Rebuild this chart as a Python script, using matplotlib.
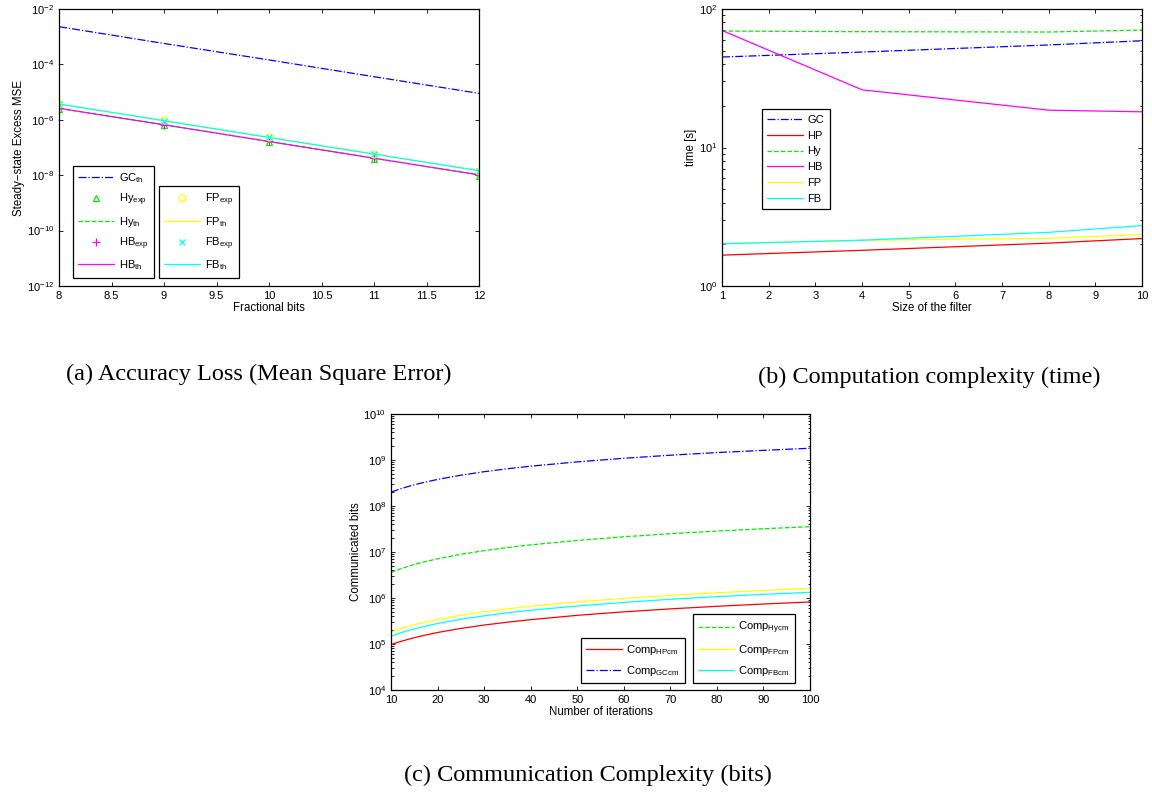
import matplotlib
matplotlib.use('Agg')
import matplotlib.pyplot as plt
import numpy as np

plt.rcParams['font.family'] = ['Liberation Sans', 'DejaVu Sans']
plt.rcParams['mathtext.fontset'] = 'custom'
plt.rcParams['mathtext.rm'] = 'Liberation Sans'
plt.rcParams['mathtext.it'] = 'Liberation Sans:italic'
plt.rcParams['mathtext.default'] = 'regular'

# (a) accuracy loss
frac_bits = [8, 9, 10, 11, 12]
gc_th = [2.3e-3, 5.7e-4, 1.45e-4, 3.6e-5, 9.0e-6]
hy_exp = [2.5e-6, 6.4e-7, 1.6e-7, 4.0e-8, 9.0e-9]
hy_th = [2.6e-6, 6.6e-7, 1.65e-7, 4.1e-8, 1.03e-8]
hb_exp = [2.6e-6, 6.5e-7, 1.65e-7, 4.1e-8, 1.0e-8]
hb_th = [2.6e-6, 6.6e-7, 1.65e-7, 4.1e-8, 1.03e-8]
fp_exp = [3.8e-6, 9.5e-7, 2.35e-7, 5.9e-8, 1.45e-8]
fp_th = [3.7e-6, 9.3e-7, 2.3e-7, 5.8e-8, 1.45e-8]
fb_exp = [3.7e-6, 9.2e-7, 2.3e-7, 5.8e-8, 1.4e-8]
fb_th = [3.7e-6, 9.3e-7, 2.3e-7, 5.8e-8, 1.45e-8]

# (b) computation time
filt_size = [1, 4, 8, 10]
t_gc = [45, 48.9, 55, 59]
t_hp = [1.67, 1.81, 2.04, 2.2]
t_hy = [69.3, 68.6, 68.2, 70.5]
t_hb = [70, 26.1, 18.6, 18.1]
t_fp = [2.02, 2.14, 2.21, 2.35]
t_fb = [2.02, 2.14, 2.44, 2.73]

# (c) communicated bits
iters = [10, 12, 14, 16, 18, 20, 25, 30, 35, 40, 50, 60, 70, 80, 90, 100]
c_hp = [9.7e4, 1.13e5, 1.29e5, 1.45e5, 1.61e5, 1.78e5, 2.18e5, 2.58e5, 2.98e5, 3.38e5,
        4.2e5, 5.0e5, 5.8e5, 6.6e5, 7.4e5, 8.2e5]
c_gc = [2.0e8, 2.36e8, 2.71e8, 3.07e8, 3.42e8, 3.78e8, 4.67e8, 5.56e8, 6.45e8, 7.34e8,
        9.1e8, 1.09e9, 1.27e9, 1.45e9, 1.62e9, 1.8e9]
c_hy = [3.6e6, 4.3e6, 5.0e6, 5.7e6, 6.4e6, 7.1e6, 8.9e6, 1.07e7, 1.25e7, 1.43e7,
        1.78e7, 2.14e7, 2.5e7, 2.85e7, 3.2e7, 3.55e7]
c_fp = [1.82e5, 2.14e5, 2.46e5, 2.78e5, 3.1e5, 3.42e5, 4.22e5, 5.02e5, 5.82e5, 6.62e5,
        8.2e5, 9.8e5, 1.14e6, 1.30e6, 1.46e6, 1.62e6]
c_fb = [1.47e5, 1.74e5, 2.0e5, 2.26e5, 2.52e5, 2.79e5, 3.45e5, 4.1e5, 4.76e5, 5.42e5,
        6.7e5, 8.0e5, 9.4e5, 1.07e6, 1.2e6, 1.33e6]

B, R, G, M, Y, C = '#0000ff', '#ff0000', '#00ee00', '#ff00ff', '#ffff00', '#00ffff'
W, H = 1152, 796
LW = 0.9
FS = 8          # tick labels
LFS = 8.3       # axis labels
GFS = 8         # legends
CAP = 17.5      # captions


def px_axes(fig, left, top, right, bottom):
    return fig.add_axes([left / W, 1 - bottom / H, (right - left) / W, (bottom - top) / H])


def style(ax):
    ax.tick_params(direction='in', which='both', top=True, right=True, labelsize=FS, width=0.6)
    ax.tick_params(which='major', length=3)
    ax.tick_params(which='minor', length=1.8)
    for s in ax.spines.values():
        s.set_linewidth(0.9)


def px_legend(fig, ax, handles, x, y, loc, **kw):
    leg = ax.legend(handles=handles, loc=loc, bbox_to_anchor=(x / W, 1 - y / H),
                    bbox_transform=fig.transFigure, borderaxespad=0, fontsize=GFS,
                    fancybox=False, framealpha=1, edgecolor='black', **kw)
    leg.get_frame().set_linewidth(0.9)
    return leg


def caption(fig, x, y, s):
    fig.text(x / W, 1 - y / H, s, ha='center', va='center', fontsize=CAP, family='Liberation Serif')


fig = plt.figure(figsize=(W / 100, H / 100), dpi=100)

# ---- (a)
ax = px_axes(fig, 59, 9, 479, 286)
l1, = ax.plot(frac_bits, gc_th, '-.', color=B, lw=LW, label='GC$_{th}$')
l2, = ax.plot(frac_bits, hy_exp, '^', color=G, mfc='none', ms=5, mew=0.9, label='Hy$_{exp}$')
l3, = ax.plot(frac_bits, hy_th, '--', color=G, lw=LW, label='Hy$_{th}$')
l4, = ax.plot(frac_bits, hb_exp, '+', color=M, ms=6, mew=0.9, label='HB$_{exp}$')
l5, = ax.plot(frac_bits, hb_th, '-', color=M, lw=LW, label='HB$_{th}$')
l6, = ax.plot(frac_bits, fp_exp, 'o', color=Y, mfc='none', ms=5, mew=0.9, label='FP$_{exp}$')
l7, = ax.plot(frac_bits, fp_th, '-', color=Y, lw=LW, label='FP$_{th}$')
l8, = ax.plot(frac_bits, fb_exp, 'x', color=C, ms=4, mew=0.9, label='FB$_{exp}$')
l9, = ax.plot(frac_bits, fb_th, '-', color=C, lw=LW, label='FB$_{th}$')
ax.set_yscale('log')
ax.set_ylim(1e-12, 1e-2)
ax.set_xlim(8, 12)
ax.set_yticks([1e-12, 1e-10, 1e-8, 1e-6, 1e-4, 1e-2])
ax.yaxis.set_minor_locator(matplotlib.ticker.NullLocator())
ax.set_xticks(np.arange(8, 12.01, 0.5))
ax.set_xticklabels(['8', '8.5', '9', '9.5', '10', '10.5', '11', '11.5', '12'])
ax.set_xlabel('Fractional bits', fontsize=LFS, labelpad=1)
ax.set_ylabel('Steady\u2212state Excess MSE', fontsize=LFS, labelpad=1)
style(ax)
leg_kw = dict(handlelength=3.25, labelspacing=0.6, handletextpad=0.4, borderpad=0.5)
la = px_legend(fig, ax, [l1, l2, l3, l4, l5], 72.7, 277.7, 'lower left', **leg_kw)
ax.add_artist(la)
px_legend(fig, ax, [l6, l7, l8, l9], 158.7, 277.7, 'lower left', **leg_kw)
caption(fig, 259, 374, '(a) Accuracy Loss (Mean Square Error)')

# ---- (b)
ax = px_axes(fig, 722, 9, 1142, 286)
h1, = ax.plot(filt_size, t_gc, '-.', color=B, lw=LW, label='GC')
h2, = ax.plot(filt_size, t_hp, '-', color=R, lw=LW, label='HP')
h3, = ax.plot(filt_size, t_hy, '--', color=G, lw=LW, label='Hy')
h4, = ax.plot(filt_size, t_hb, '-', color=M, lw=LW, label='HB')
h5, = ax.plot(filt_size, t_fp, '-', color=Y, lw=LW, label='FP')
h6, = ax.plot(filt_size, t_fb, '-', color=C, lw=LW, label='FB')
ax.set_yscale('log')
ax.set_ylim(1, 100)
ax.set_xlim(1, 10)
ax.set_xticks(range(1, 11))
ax.yaxis.set_minor_formatter(matplotlib.ticker.NullFormatter())
ax.set_xlabel('Size of the filter', fontsize=LFS, labelpad=1)
ax.set_ylabel('time [s]', fontsize=LFS, labelpad=1)
style(ax)
px_legend(fig, ax, [h1, h2, h3, h4, h5, h6], 761.7, 109.3, 'upper left',
          handlelength=3.2, labelspacing=0.52, handletextpad=0.4, borderpad=0.5)
caption(fig, 929, 377, '(b) Computation complexity (time)')

# ---- (c)
ax = px_axes(fig, 391, 414, 810, 690)
k1, = ax.plot(iters, c_hp, '-', color=R, lw=LW, label='Comp$_{HPcm}$')
k2, = ax.plot(iters, c_gc, '-.', color=B, lw=LW, label='Comp$_{GCcm}$')
k3, = ax.plot(iters, c_hy, '--', color=G, lw=LW, label='Comp$_{Hycm}$')
k4, = ax.plot(iters, c_fp, '-', color=Y, lw=LW, label='Comp$_{FPcm}$')
k5, = ax.plot(iters, c_fb, '-', color=C, lw=LW, label='Comp$_{FBcm}$')
ax.set_yscale('log')
ax.set_ylim(1e4, 1e10)
ax.set_xlim(10, 100)
ax.set_xticks(range(10, 101, 10))
ax.yaxis.set_major_locator(matplotlib.ticker.LogLocator(base=10, numticks=20))
ax.yaxis.set_minor_locator(matplotlib.ticker.LogLocator(base=10, subs=np.arange(2, 10), numticks=20))
ax.yaxis.set_minor_formatter(matplotlib.ticker.NullFormatter())
ax.set_xlabel('Number of iterations', fontsize=LFS, labelpad=1)
ax.set_ylabel('Communicated bits', fontsize=LFS, labelpad=1)
style(ax)
lc_kw = dict(handlelength=3.2, labelspacing=0.6, handletextpad=0.4, borderpad=0.5)
lc = px_legend(fig, ax, [k1, k2], 580.7, 683.3, 'lower left', **lc_kw)
ax.add_artist(lc)
px_legend(fig, ax, [k3, k4, k5], 692.7, 683.3, 'lower left', **lc_kw)
caption(fig, 588, 775, '(c) Communication Complexity (bits)')

fig.savefig('out.png', dpi=100, facecolor='white')
